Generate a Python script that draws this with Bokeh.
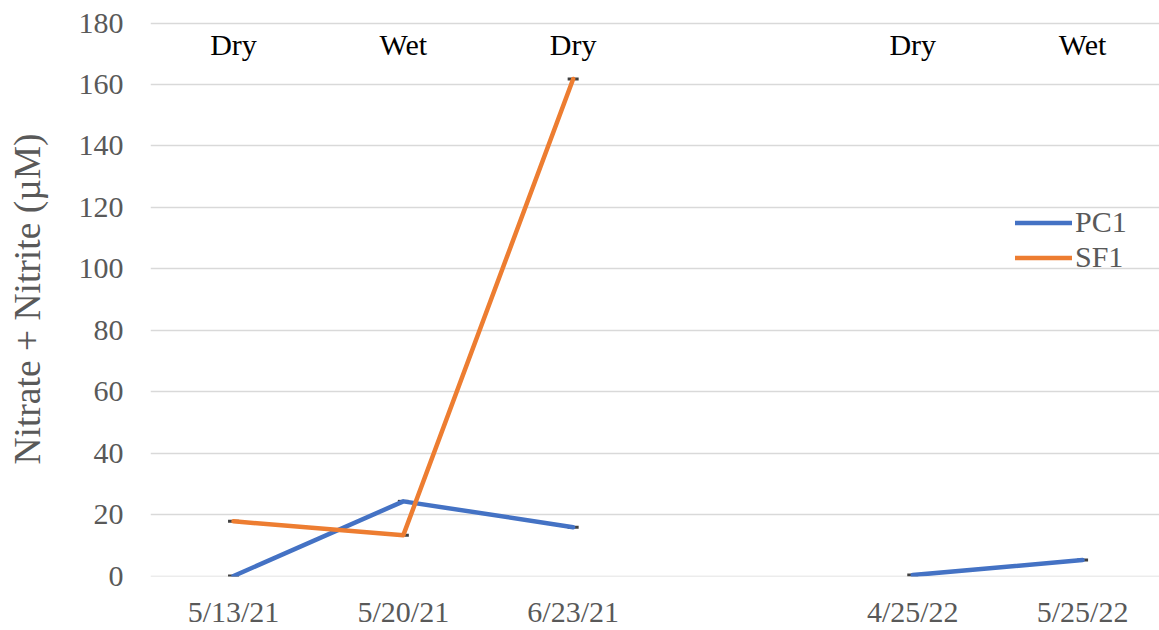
import numpy as np
from bokeh.plotting import figure
from bokeh.models import ColumnDataSource, FixedTicker, Range1d, Legend, LegendItem
from bokeh.core.properties import value
from bokeh.embed import file_html
from bokeh.resources import INLINE

# ---- data ----
categories = ["5/13/21", "5/20/21", "6/23/21", "", "4/25/22", "5/25/22"]
pc1 = [0.0, 24.3, 15.9, np.nan, 0.3, 5.2]
sf1 = [17.8, 13.3, 161.8, np.nan, np.nan, np.nan]
season_labels = ["Dry", "Wet", "Dry", "", "Dry", "Wet"]
y_ticks = [0, 20, 40, 60, 80, 100, 120, 140, 160, 180]
y_title = "Nitrate + Nitrite (\u00b5M)"

FONT = "'Liberation Serif', 'Times New Roman', serif"
BLUE = "#4472C4"
ORANGE = "#ED7D31"
GRAY_TXT = "#595959"

xs = list(range(len(categories)))

p = figure(width=1159, height=630, output_backend="svg", toolbar_location=None,
           x_range=Range1d(-0.489, 5.453), y_range=Range1d(-0.16, 180.5),
           min_border_left=150, min_border_right=0, min_border_top=21, min_border_bottom=52)
p.outline_line_color = None
p.background_fill_color = "white"
p.border_fill_color = "white"

# grid
p.xgrid.grid_line_color = None
p.ygrid.grid_line_color = "#D9D9D9"
p.ygrid.grid_line_width = 1.5

# axes
p.yaxis.ticker = FixedTicker(ticks=y_ticks)
p.xaxis.ticker = FixedTicker(ticks=[i for i, c in enumerate(categories) if c])
p.xaxis.major_label_overrides = {i: c for i, c in enumerate(categories) if c}
for ax in (p.xaxis[0], p.yaxis[0]):
    ax.axis_line_color = None
    ax.major_tick_line_color = None
    ax.minor_tick_line_color = None
    ax.major_tick_out = 0
    ax.major_tick_in = 0
    ax.minor_tick_out = 0
    ax.minor_tick_in = 0
    ax.major_label_text_font = FONT
    ax.major_label_text_font_size = "30px"
    ax.major_label_text_color = GRAY_TXT
p.yaxis.major_label_standoff = 27
p.xaxis.major_label_standoff = 18

p.yaxis.axis_label = y_title
p.yaxis.axis_label_text_font = FONT
p.yaxis.axis_label_text_font_size = "37.5px"
p.yaxis.axis_label_text_font_style = "normal"
p.yaxis.axis_label_text_color = GRAY_TXT
p.yaxis.axis_label_standoff = 28

src = ColumnDataSource(dict(x=xs, pc1=pc1, sf1=sf1))

# error bar caps (drawn beneath the lines)
p.scatter("x", "pc1", source=src, marker="dash", size=11, line_color="#404040", line_width=3)
p.scatter("x", "sf1", source=src, marker="dash", size=11, line_color="#404040", line_width=3)

r_pc1 = p.line("x", "pc1", source=src, line_color=BLUE, line_width=4.5, line_cap="round", line_join="round")
r_sf1 = p.line("x", "sf1", source=src, line_color=ORANGE, line_width=4.5, line_cap="round", line_join="round")

# season annotations
lab_x = [x for x, s in zip(xs, season_labels) if s]
lab_t = [s for s in season_labels if s]
lab_src = ColumnDataSource(dict(x=lab_x, y=[172.9] * len(lab_x), t=lab_t))
p.text("x", "y", text="t", source=lab_src, text_font=value(FONT), text_font_size="30px",
       text_color="black", text_align="center", text_baseline="middle")

legend = Legend(items=[LegendItem(label="PC1", renderers=[r_pc1]),
                       LegendItem(label="SF1", renderers=[r_sf1])],
                location=(865, 302), orientation="vertical")
legend.border_line_color = None
legend.background_fill_alpha = 0
legend.padding = 0
legend.margin = 0
legend.spacing = 1
legend.glyph_width = 57
legend.glyph_height = 29
legend.label_height = 29
legend.label_standoff = 3
legend.label_text_font = FONT
legend.label_text_font_size = "30px"
legend.label_text_color = GRAY_TXT
p.add_layout(legend, "center")

open("out.html", "w").write(file_html(p, INLINE))
